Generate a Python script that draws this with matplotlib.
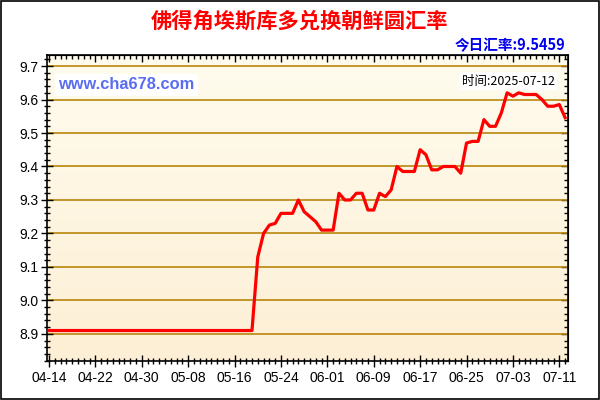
import numpy as np
import pandas as pd
import matplotlib
matplotlib.use('Agg')
import matplotlib.pyplot as plt
from matplotlib.ticker import MultipleLocator, FixedLocator, NullFormatter

plt.rcParams['font.family'] = ['Liberation Sans', 'Noto Sans CJK SC', 'DejaVu Sans']

# data (one point per day)
dates = pd.date_range('2025-04-14', '2025-07-12', freq='D')
rates = [8.91, 8.91, 8.91, 8.91, 8.91, 8.91, 8.91, 8.91, 8.91, 8.91,
         8.91, 8.91, 8.91, 8.91, 8.91, 8.91, 8.91, 8.91, 8.91, 8.91,
         8.91, 8.91, 8.91, 8.91, 8.91, 8.91, 8.91, 8.91, 8.91, 8.91,
         8.91, 8.91, 8.91, 8.91, 8.91, 8.91,
         9.13, 9.20, 9.225, 9.23, 9.26, 9.26, 9.26, 9.30, 9.265, 9.25,
         9.235, 9.21, 9.21, 9.21, 9.32, 9.30, 9.30, 9.32, 9.32, 9.27,
         9.27, 9.32, 9.31, 9.33, 9.40, 9.385, 9.385, 9.385, 9.45, 9.435,
         9.39, 9.39, 9.40, 9.40, 9.40, 9.38, 9.47, 9.475, 9.475, 9.54,
         9.52, 9.52, 9.56, 9.62, 9.61, 9.62, 9.615, 9.615, 9.615, 9.60,
         9.58, 9.58, 9.585, 9.5459]
ytick_vals = [8.9, 9.0, 9.1, 9.2, 9.3, 9.4, 9.5, 9.6, 9.7]
title = '佛得角埃斯库多兑换朝鲜圆汇率'
today_text = '今日汇率:9.5459'
site_text = 'www.cha678.com'
time_text = '时间:2025-07-12'

days = np.arange(len(rates))
label_days = np.arange(0, len(rates), 8)
label_txt = [dates[d].strftime('%m-%d') for d in label_days]

fig = plt.figure(figsize=(6, 4), dpi=100)
fig.patch.set_facecolor('white')
# outer black frame
fig.add_artist(plt.Rectangle((0.0015, 0.002), 0.997, 0.996, transform=fig.transFigure,
                             fill=False, edgecolor='black', linewidth=1.2))

ax = fig.add_axes([47/600, 39/400, 521/600, 306/400])

# cream gradient background
grad = np.linspace(0, 1, 256).reshape(-1, 1)
top = np.array([255, 252, 238]) / 255
bot = np.array([253, 239, 213]) / 255
img = top + (bot - top) * grad[:, :, None] * np.ones((1, 1, 3))
ax.imshow(img.reshape(256, 1, 3), extent=[0, 1, 0, 1], transform=ax.transAxes,
          aspect='auto', zorder=0)

for v in ytick_vals:
    ax.axhline(v, color='#b8860b', linewidth=1.2, zorder=1)

ax.plot(days, rates, color='#ff0000', linewidth=2.3, zorder=3, solid_joinstyle='round')

ax.set_xlim(-0.35, 89.5)
ax.set_ylim(8.819, 9.733)

ax.yaxis.set_major_locator(FixedLocator(ytick_vals))
ax.yaxis.set_minor_locator(MultipleLocator(0.02))
ax.set_yticklabels(['%.1f' % v for v in ytick_vals])
ax.xaxis.set_major_locator(FixedLocator(label_days))
ax.set_xticklabels(label_txt)
ax.xaxis.set_minor_locator(MultipleLocator(1))

ax.tick_params(axis='both', which='major', direction='inout', length=8, width=1,
               labelsize=10, colors='black')
ax.tick_params(axis='both', which='minor', direction='inout', length=5, width=1)
ax.tick_params(axis='x', pad=3)
ax.tick_params(axis='y', pad=2)
for s in ax.spines.values():
    s.set_linewidth(1.2)

# inward ticks on the right and top
ax_r = ax.secondary_yaxis('right')
ax_r.yaxis.set_major_locator(FixedLocator(ytick_vals))
ax_r.yaxis.set_minor_locator(MultipleLocator(0.02))
ax_r.yaxis.set_major_formatter(NullFormatter())
ax_r.tick_params(which='major', direction='in', length=5, width=1)
ax_r.tick_params(which='minor', direction='in', length=3, width=1)
ax_t = ax.secondary_xaxis('top')
ax_t.xaxis.set_major_locator(FixedLocator(label_days))
ax_t.xaxis.set_minor_locator(MultipleLocator(1))
ax_t.xaxis.set_major_formatter(NullFormatter())
ax_t.tick_params(which='major', direction='in', length=5, width=1)
ax_t.tick_params(which='minor', direction='in', length=3, width=1)

fig.text(0.5, 0.948, title, ha='center', va='center', color='#ff0000',
         fontsize=15.3, fontweight='bold', family=['Noto Sans CJK SC', 'DejaVu Sans'])
fig.text(0.942, 0.888, today_text, ha='right', va='center', color='#0000ee',
         fontsize=10.5, fontweight='bold', family=['Noto Sans CJK SC', 'DejaVu Sans'])

ax.text(0.022, 0.903, site_text, transform=ax.transAxes, ha='left', va='center',
        color='#5a6cf0', fontsize=11.8, fontweight='bold',
        bbox=dict(facecolor='white', edgecolor='none', pad=2.5), zorder=5)
ax.text(0.975, 0.915, time_text, transform=ax.transAxes, ha='right', va='center',
        color='black', fontsize=9, family=['Noto Sans CJK SC', 'DejaVu Sans'],
        bbox=dict(facecolor='white', edgecolor='none', pad=1.5), zorder=5)

fig.savefig('out.png', dpi=100)
